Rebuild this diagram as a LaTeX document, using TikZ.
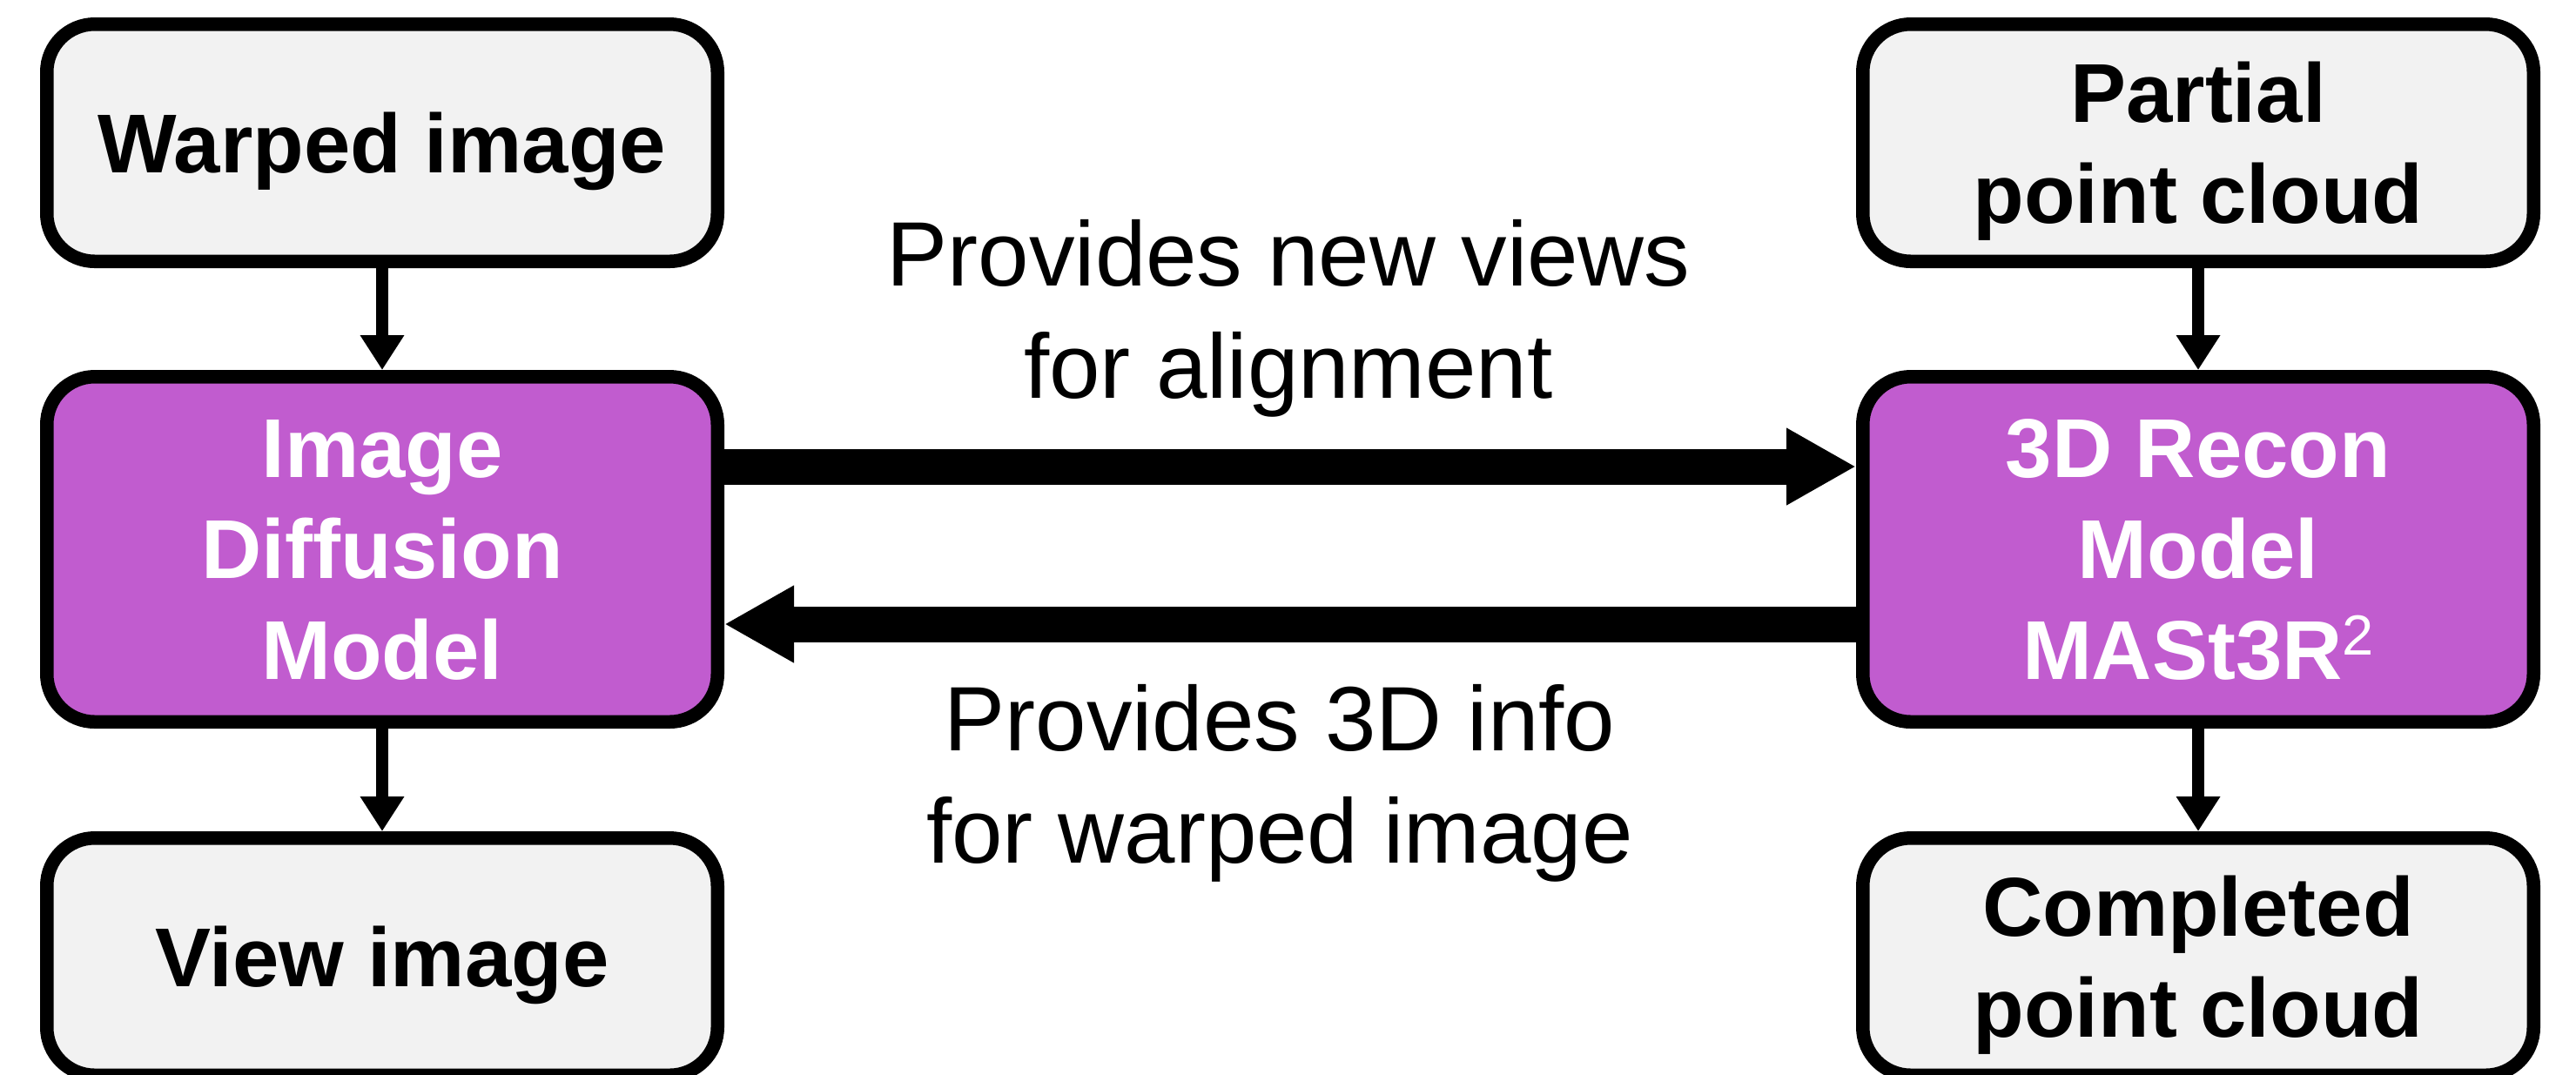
\documentclass[tikz,border=0pt]{standalone}
\usepackage{fontspec}
\setmainfont{Liberation Sans}
\usetikzlibrary{arrows.meta}
\definecolor{boxgrey}{HTML}{F2F2F2}
\definecolor{boxpurple}{RGB}{193,92,207}
\newcommand\myboxfont{\bfseries\fontsize{27.3}{33}\selectfont}
\newcommand\mylabelfont{\fontsize{29.9}{36.7}\selectfont}
\begin{document}
\begin{tikzpicture}[
  box/.style={draw=black, line width=0.155cm, rounded corners=0.55cm,
    minimum width=7.705cm, inner sep=0pt, align=center, text depth=0pt, font=\myboxfont},
  greybox/.style={box, fill=boxgrey, minimum height=2.725cm},
  purplebox/.style={box, fill=boxpurple, minimum height=3.965cm, text=white},
  smallarrow/.style={line width=0.14cm, -{Triangle[width=0.48cm,length=0.40cm]}},
  bigarrow/.style={line width=0.41cm, -{Triangle[width=0.83cm,length=0.80cm]}},
  edgetext/.style={inner sep=0pt, align=center, font=\mylabelfont}
]
\useasboundingbox (0,0) rectangle (29.59,-12.34);
\fill[white] (0,0) rectangle (29.59,-12.34);

\node[greybox] (warp) at (4.39,-1.64) {Warped image};
\node[purplebox] (diff) at (4.39,-6.31) {Image\\Diffusion\\Model};
\node[greybox] (view) at (4.39,-10.99) {View image};

\node[greybox] (partial) at (25.25,-1.64) {Partial\\point cloud};
\node[purplebox] (recon) at (25.25,-6.31) {3D Recon\\Model\\MASt3R\raisebox{0.28cm}{\fontsize{18.5}{18.5}\selectfont\mdseries 2}};
\node[greybox] (complete) at (25.25,-10.99) {Completed\\point cloud};

\draw[smallarrow] (warp.south) -- (diff.north);
\draw[smallarrow] (diff.south) -- (view.north);
\draw[smallarrow] (partial.south) -- (recon.north);
\draw[smallarrow] (recon.south) -- (complete.north);

\draw[bigarrow] ([yshift=0.95cm]diff.east) -- ([yshift=0.95cm]recon.west);
\draw[bigarrow] ([yshift=-0.86cm]recon.west) -- ([yshift=-0.86cm]diff.east);

\node[edgetext] (t1) at (14.80,-3.66) {Provides new views\\for alignment};
\node[edgetext] (t2) at (14.70,-9.00) {Provides 3D info\\for warped image};
\end{tikzpicture}
\end{document}
